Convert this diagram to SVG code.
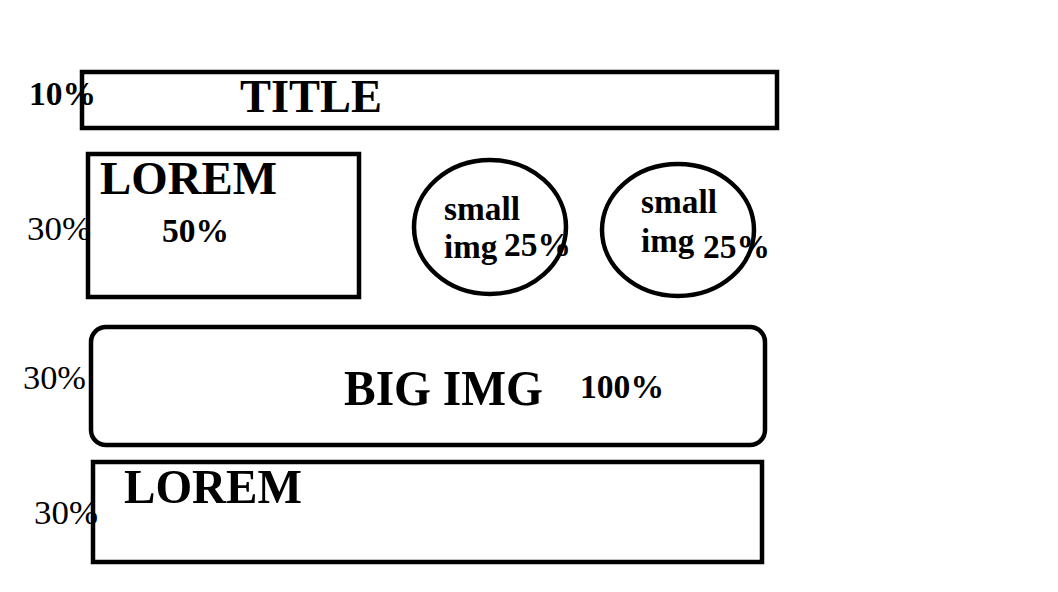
<svg xmlns="http://www.w3.org/2000/svg" width="1058" height="592" viewBox="0 0 1058 592">
<style>
.box{fill:none;stroke:#000;stroke-width:4.5}
text{font-family:"Liberation Serif","Times New Roman",serif;fill:#000}
.b{font-weight:bold}
</style>
<rect width="1058" height="592" fill="#fff"/>
<g id="title">
<rect class="box" x="82" y="72" width="695" height="56"/>
<text class="b" x="29" y="105" font-size="33" textLength="67" lengthAdjust="spacingAndGlyphs">10%</text>
<text class="b" x="240" y="112" font-size="47" textLength="142" lengthAdjust="spacingAndGlyphs">TITLE</text>
</g>
<g id="lorem1">
<rect class="box" x="88" y="154" width="271" height="143"/>
<text x="27" y="240" font-size="33" textLength="64" lengthAdjust="spacingAndGlyphs">30%</text>
<text class="b" x="100" y="194" font-size="47" textLength="177" lengthAdjust="spacingAndGlyphs">LOREM</text>
<text class="b" x="162" y="242" font-size="33" textLength="67" lengthAdjust="spacingAndGlyphs">50%</text>
</g>
<g id="small1">
<ellipse class="box" cx="490" cy="227" rx="76" ry="67"/>
<text class="b" x="444" y="220" font-size="33" textLength="76" lengthAdjust="spacingAndGlyphs">small</text>
<text class="b" x="444" y="258" font-size="33">img</text>
<text class="b" x="504" y="256" font-size="34" textLength="67" lengthAdjust="spacingAndGlyphs">25%</text>
</g>
<g id="small2">
<ellipse class="box" cx="678" cy="230" rx="76" ry="66"/>
<text class="b" x="641" y="213" font-size="33" textLength="76" lengthAdjust="spacingAndGlyphs">small</text>
<text class="b" x="641" y="252" font-size="33">img</text>
<text class="b" x="703" y="258" font-size="34" textLength="67" lengthAdjust="spacingAndGlyphs">25%</text>
</g>
<g id="bigimg">
<rect class="box" x="91" y="327" width="674" height="118" rx="15"/>
<text x="23" y="389" font-size="34" textLength="63" lengthAdjust="spacingAndGlyphs">30%</text>
<text class="b" x="344" y="405" font-size="51" textLength="199" lengthAdjust="spacingAndGlyphs">BIG IMG</text>
<text class="b" x="580" y="398" font-size="34" textLength="84" lengthAdjust="spacingAndGlyphs">100%</text>
</g>
<g id="lorem2">
<rect class="box" x="93" y="462" width="669" height="100"/>
<text x="34" y="524" font-size="34" textLength="64" lengthAdjust="spacingAndGlyphs">30%</text>
<text class="b" x="124" y="503" font-size="49" textLength="178" lengthAdjust="spacingAndGlyphs">LOREM</text>
</g>
<g id="connectors"/>
</svg>
